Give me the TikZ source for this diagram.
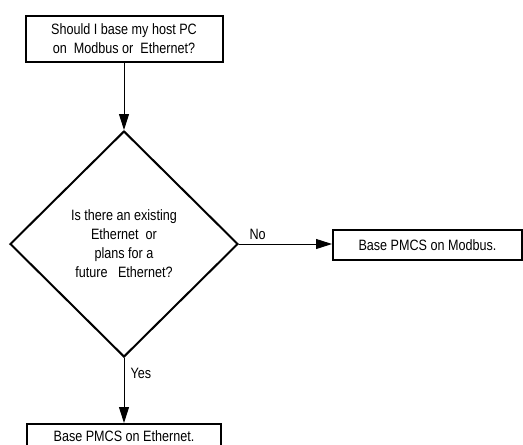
\documentclass[tikz,border=0pt]{standalone}
\usepackage{fontspec}
\setmainfont[FakeStretch=0.84]{Liberation Sans}
\usetikzlibrary{shapes.geometric,arrows.meta}
\begin{document}
\begin{tikzpicture}[x=1pt,y=-1pt,
  every node/.style={font=\fontsize{15}{19}\selectfont},
  boxnode/.style={draw,line width=2pt,inner sep=0pt,align=center},
  decision/.style={draw,diamond,line width=2pt,inner sep=0pt,align=center},
  conn/.style={line width=1pt,-{Triangle[length=16pt,width=10pt]}},
  lbl/.style={inner sep=0pt}]
\useasboundingbox (0,0) rectangle (523,445);
\node[boxnode,minimum width=197pt,minimum height=46pt] (q) at (124,39) {Should I base my host PC\\on\ \ Modbus or\ \ Ethernet?};
\node[decision,minimum width=228pt,minimum height=226pt] (d) at (124,244) {Is there an existing\\Ethernet\ \ or\\plans for a\\future\ \ \ Ethernet?};
\node[boxnode,minimum width=189pt,minimum height=30pt] (m) at (427.5,245) {Base PMCS on Modbus.};
\node[boxnode,minimum width=194pt,minimum height=25pt] (e) at (124,436.5) {Base PMCS on Ethernet.};
\draw[conn] (q.south) -- (d.north);
\draw[conn] (d.east) -- (d.east -| m.west) node[lbl,pos=0.2,above=4pt] (no) {No};
\draw[conn] (d.south) -- (e.north) node[lbl,pos=0.23,right=6pt] (yes) {Yes};
\end{tikzpicture}
\end{document}
